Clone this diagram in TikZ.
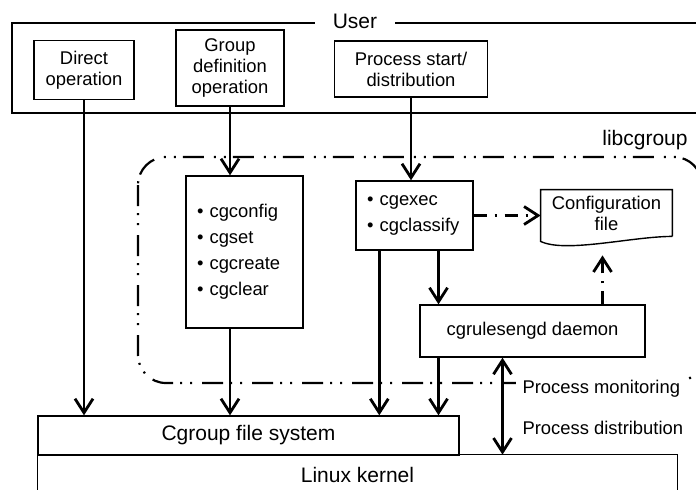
\documentclass[tikz,border=0pt]{standalone}
\usepackage{fontspec}
\setmainfont{Liberation Sans}
\usetikzlibrary{arrows.meta}

\begin{document}
\begin{tikzpicture}[
   x=0.5pt,y=-0.5pt,
   font=\fontsize{9.2}{10.5}\selectfont,
   box/.style={draw,line width=0.7pt,inner sep=0pt,align=center},
   list/.style={box,align=left,inner xsep=5.5pt,text width=47.5pt,font=\fontsize{9.2}{13}\selectfont},
   lbl/.style={font=\fontsize{10.5}{12}\selectfont},
   flow/.style={-{Straight Barb[length=7pt,width=9pt]},line width=1.4pt},
   dbl/.style={{Straight Barb[length=7pt,width=9pt]}-{Straight Barb[length=7pt,width=9pt]},line width=1.4pt},
   dotflow/.style={dash pattern=on 6.5pt off 4pt on 1pt off 4pt},
   libline/.style={line width=1.1pt,dash pattern=on 10.5pt off 3.5pt on 1pt off 4pt on 1pt off 5pt}]
\useasboundingbox (0,0) rectangle (696,489);
% user side
\draw[line width=0.7pt] (700,23) -- (12,23) -- (12,113) -- (700,113);
\node[lbl,fill=white,inner xsep=9pt] (user) at (355,21) {User};
\node[box,minimum width=50pt,minimum height=29.5pt] (direct) at (84,70) {Direct\\operation};
\node[box,minimum width=54pt,minimum height=38pt] (groupdef) at (230,68) {Group\\definition\\operation};
\node[box,minimum width=76.5pt,minimum height=28pt] (procstart) at (411,69) {Process start/\\distribution};
% libcgroup
\draw[libline,rounded corners=14pt] (138,157) rectangle (702,383);
\node[lbl,anchor=base east,inner sep=0pt] (libname) at (688,145) {libcgroup};
\node[list,minimum height=76pt] (cgtools) at (244.5,252) {\textbullet\ cgconfig\\\textbullet\ cgset\\\textbullet\ cgcreate\\\textbullet\ cgclear};
\node[list,minimum height=34.5pt] (cgexec) at (414.5,215.5) {\textbullet\ cgexec\\\textbullet\ cgclassify};
\node[inner sep=0pt,minimum width=65.5pt,minimum height=23pt,align=center] (config) at (606.5,213) {Configuration\\file};
\draw[line width=0.7pt] (config.south east) -- (config.north east) -- (config.north west) -- ([yshift=-2.5pt]config.south west)
   .. controls +(25,12) and +(-40,0) .. (config.south east);
\node[box,minimum width=112.5pt,minimum height=26pt] (daemon) at (532.5,331) {cgrulesengd daemon};
% kernel side
\node[box,lbl,minimum width=210.5pt,minimum height=19.5pt] (cgfs) at (248.5,435.5) {Cgroup file system};
\node[lbl,inner sep=0pt,minimum width=319.5pt,minimum height=20pt] (kernel) at (357.5,475) {Linux kernel};
\draw[line width=0.7pt] (kernel.south west) -- (kernel.north west) -- (kernel.north east) -- (kernel.south east);
% arrows
\draw[flow] (direct.south) -- (direct.south |- cgfs.north);
\draw[flow] (groupdef.south) -- (groupdef.south |- cgtools.north);
\draw[flow] (groupdef.south |- cgtools.south) -- (groupdef.south |- cgfs.north);
\draw[flow] (procstart.south) -- (procstart.south |- cgexec.north);
\draw[flow] ([xshift=12pt]cgexec.south west) -- ([xshift=12pt]cgexec.south west |- cgfs.north);
\draw[flow] ([xshift=12pt]cgexec.south) -- ([xshift=12pt]cgexec.south |- daemon.north);
\draw[flow] ([xshift=12pt]cgexec.south |- daemon.south) -- ([xshift=12pt]cgexec.south |- cgfs.north);
\draw[flow,dotflow] (cgexec.east) -- (cgexec.east -| config.west);
\draw[flow,dotflow,shorten >=5pt] ([xshift=-2pt]config.south |- daemon.north) -- ([xshift=-2pt,yshift=-4.5pt]config.south);
\draw[dbl] ([xshift=-15pt]daemon.south) -- ([xshift=-15pt]daemon.south |- kernel.north)
   node[pos=0.32,right=6pt,fill=white] (monitor) {Process monitoring}
   node[pos=0.72,right=6pt] (distrib) {Process distribution};
\end{tikzpicture}
\end{document}
